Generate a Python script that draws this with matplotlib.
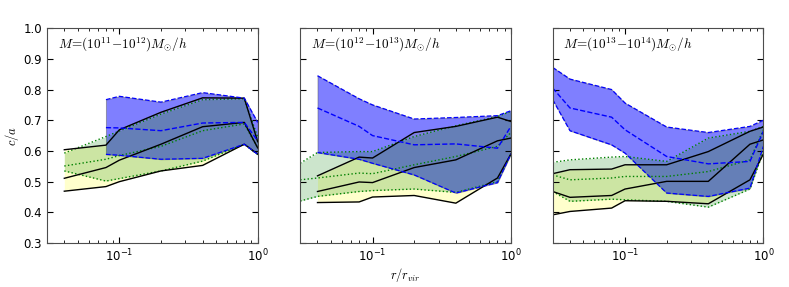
import numpy as np
import matplotlib
matplotlib.use("Agg")
import matplotlib.pyplot as plt

plt.rcParams['mathtext.fontset'] = 'cm'
plt.rcParams['font.size'] = 8

# ----------------------------
# Data
# ----------------------------
r_a = [0.04, 0.08, 0.1, 0.2, 0.4, 0.8, 1.0]
r_b = [0.03, 0.04, 0.08, 0.1, 0.2, 0.4, 0.8, 1.0]

titles = [r"$M\!=\!(10^{11}\!-\!10^{12})M_{\odot}/h$",
          r"$M\!=\!(10^{12}\!-\!10^{13})M_{\odot}/h$",
          r"$M\!=\!(10^{13}\!-\!10^{14})M_{\odot}/h$"]

# panel 1
p1_black_lo = [0.469, 0.484, 0.50, 0.535, 0.553, 0.622, 0.59]
p1_black_md = [0.511, 0.546, 0.57, 0.622, 0.679, 0.693, 0.61]
p1_black_hi = [0.604, 0.619, 0.669, 0.726, 0.773, 0.772, 0.63]
p1_green_lo = [0.535, 0.502, 0.51, 0.535, 0.567, 0.622, 0.588]
p1_green_md = [0.551, 0.573, 0.585, 0.615, 0.666, 0.688, 0.61]
p1_green_hi = [0.593, 0.647, 0.665, 0.72, 0.767, 0.77, 0.645]
p1_blue_r = [0.08, 0.1, 0.2, 0.4, 0.8, 1.0]
p1_blue_lo = [0.589, 0.586, 0.573, 0.576, 0.622, 0.589]
p1_blue_md = [0.676, 0.675, 0.666, 0.691, 0.693, 0.633]
p1_blue_hi = [0.767, 0.778, 0.759, 0.79, 0.772, 0.693]

# panel 2
p2_black_lo = [0.432, 0.434, 0.45, 0.455, 0.43, 0.512, 0.59]
p2_black_md = [0.468, 0.499, 0.497, 0.546, 0.571, 0.633, 0.642]
p2_black_hi = [0.519, 0.58, 0.577, 0.66, 0.68, 0.71, 0.696]
p2_green_lo = [0.437, 0.452, 0.468, 0.471, 0.476, 0.465, 0.50, 0.59]
p2_green_md = [0.506, 0.512, 0.528, 0.526, 0.555, 0.582, 0.615, 0.66]
p2_green_hi = [0.56, 0.595, 0.598, 0.598, 0.647, 0.682, 0.712, 0.729]
p2_blue_lo = [0.595, 0.573, 0.56, 0.522, 0.463, 0.497, 0.59]
p2_blue_md = [0.74, 0.68, 0.65, 0.62, 0.623, 0.609, 0.68]
p2_blue_hi = [0.845, 0.77, 0.75, 0.704, 0.709, 0.715, 0.731]

# panel 3
p3_black_lo = [0.392, 0.403, 0.414, 0.438, 0.436, 0.428, 0.506, 0.59]
p3_black_md = [0.468, 0.449, 0.455, 0.476, 0.501, 0.501, 0.622, 0.636]
p3_black_hi = [0.526, 0.539, 0.541, 0.555, 0.555, 0.598, 0.664, 0.678]
p3_green_lo = [0.468, 0.436, 0.443, 0.441, 0.436, 0.417, 0.476, 0.598]
p3_green_md = [0.522, 0.506, 0.512, 0.517, 0.517, 0.533, 0.571, 0.669]
p3_green_hi = [0.563, 0.571, 0.58, 0.582, 0.566, 0.642, 0.664, 0.68]
p3_blue_lo = [0.767, 0.666, 0.62, 0.593, 0.463, 0.452, 0.479, 0.615]
p3_blue_md = [0.805, 0.74, 0.71, 0.669, 0.582, 0.558, 0.566, 0.664]
p3_blue_hi = [0.872, 0.834, 0.80, 0.756, 0.678, 0.66, 0.68, 0.70]

panels = [
    dict(rk=r_a, k=(p1_black_lo, p1_black_md, p1_black_hi),
         rg=r_a, g=(p1_green_lo, p1_green_md, p1_green_hi),
         rb=p1_blue_r, b=(p1_blue_lo, p1_blue_md, p1_blue_hi)),
    dict(rk=r_a, k=(p2_black_lo, p2_black_md, p2_black_hi),
         rg=r_b, g=(p2_green_lo, p2_green_md, p2_green_hi),
         rb=r_a, b=(p2_blue_lo, p2_blue_md, p2_blue_hi)),
    dict(rk=r_b, k=(p3_black_lo, p3_black_md, p3_black_hi),
         rg=r_b, g=(p3_green_lo, p3_green_md, p3_green_hi),
         rb=r_b, b=(p3_blue_lo, p3_blue_md, p3_blue_hi)),
]

# ----------------------------
# Plot
# ----------------------------
fig = plt.figure(figsize=(7.89, 2.87), dpi=100)
lefts = [0.0596, 0.3805, 0.7005]

for i, p in enumerate(panels):
    ax = fig.add_axes([lefts[i], 0.153, 0.267, 0.749])
    lo, md, hi = p["k"]
    ax.fill_between(p["rk"], lo, hi, color="yellow", alpha=0.2, lw=0)
    blo, bmd, bhi = p["b"]
    ax.fill_between(p["rb"], blo, bhi, facecolor="blue", alpha=0.5,
                    edgecolor="0.35", lw=0.7)
    glo, gmd, ghi = p["g"]
    ax.fill_between(p["rg"], glo, ghi, color="green", alpha=0.2, lw=0)

    for y in (glo, gmd, ghi):
        ax.plot(p["rg"], y, color="green", ls=":", lw=1)
    for y in (lo, md, hi):
        ax.plot(p["rk"], y, color="black", ls="-", lw=1)
    ax.plot(p["rb"], blo, color="blue", ls="--", lw=0.9)
    ax.plot(p["rb"], bhi, color="blue", ls="--", lw=0.9)
    ax.plot(p["rb"], bmd, color="blue", ls="--", lw=1)

    ax.set_xscale("log")
    ax.set_xlim(0.03, 1.0)
    ax.set_ylim(0.3, 1.0)
    ax.set_yticks(np.arange(0.3, 1.01, 0.1))
    ax.tick_params(which="both", direction="in", top=True, right=True)
    ax.tick_params(which="major", length=4, labelsize=8.5)
    ax.tick_params(which="minor", length=2)
    for s in ax.spines.values():
        s.set_color("0.3")
    if i == 0:
        ax.set_yticklabels(["%.1f" % v for v in np.arange(0.3, 1.01, 0.1)])
        ax.set_ylabel(r"$c/a$", fontsize=9, labelpad=2)
    else:
        ax.set_yticklabels([])
    if i == 1:
        ax.set_xlabel(r"$r/r_{vir}$", fontsize=9, labelpad=1)
    ax.text(0.05, 0.965, titles[i], transform=ax.transAxes, fontsize=9.5,
            ha="left", va="top")

fig.savefig("out.png", dpi=100)
